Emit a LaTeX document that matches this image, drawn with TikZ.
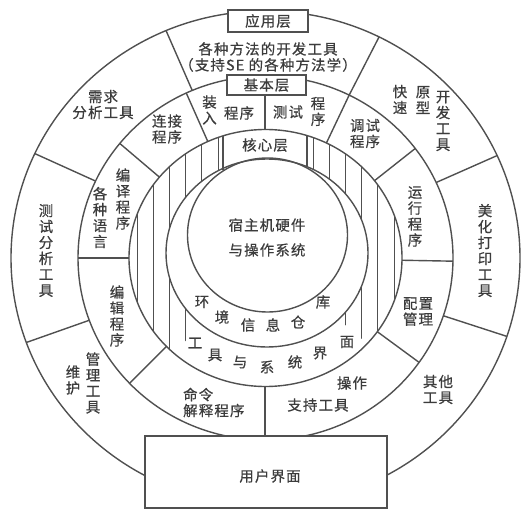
\documentclass[tikz,border=0pt]{standalone}
\usepackage{fontspec}
\newfontfamily\cjk[LetterSpace=8,FakeBold=0.6]{Noto Sans CJK SC}
\definecolor{ln}{RGB}{80,80,80}
\definecolor{tx}{RGB}{60,60,60}
\tikzset{
  ring/.style={draw=ln, line width=1.4bp},
  hatchline/.style={draw=ln, line width=0.8bp},
  boxed/.style={draw=ln, line width=1.4bp, fill=white},
  lbl/.style={text=tx, font=\cjk\fontsize{14.5}{16}\selectfont, inner sep=0pt, align=center},
}
\begin{document}
\begin{tikzpicture}[x=1bp,y=-1bp]
\useasboundingbox (0,0) rectangle (532,517);
\begin{scope}[shift={(265.5,258)}, y=1bp]
  % hatching of the tool/system interface ring
  \begin{scope}[even odd rule]
    \clip (0,0) -- (320:300) arc[start angle=320,end angle=586,radius=300] -- cycle;
    \clip (0,0) ellipse (136.5 and 128.5) (1.5,5) ellipse (101 and 94);
    \foreach \x in {47.5,63.7,79.9,96.1,112.3,128.5} {
      \draw[hatchline] (\x,-140) -- (\x,140);
      \draw[hatchline] (-\x,-140) -- (-\x,140);
    }
  \end{scope}
  % rings
  \draw[ring] (0,0) ellipse (254.5 and 247);
  \draw[ring] (0,0) ellipse (187.5 and 182);
  \draw[ring] (0,0) ellipse (136.5 and 128.5);
  \draw[ring] (1.5,5) ellipse (101 and 94);
  \draw[ring] (2,23) ellipse (80 and 77);
  % kernel box sides
  \draw[ring] (-42.5,122.1) -- (-42.5,88);
  \draw[ring] (41.5,122.4) -- (41.5,90.5);
  % application layer dividers
  \foreach \a in {63.5,113,155,200,-18.5,24.5}
    \draw[ring] (\a:187.5 and 182) -- (\a:254.5 and 247);
  % basic layer dividers
  \foreach \a in {115,141,180,223.5,-35,-1,37,63.5}
    \draw[ring] (\a:136.5 and 128.5) -- (\a:187.5 and 182);
  \draw[ring] (-0.5,165) -- (-0.5,128);
  \draw[ring] (-0.5,-128) -- (-0.5,-180);
  % boxes
  \node[boxed, minimum width=80bp, minimum height=22bp, inner sep=0pt] (app) at (2.5,237) {};
  \node[boxed, minimum width=79bp, minimum height=20bp, inner sep=0pt] (basic) at (1,173) {};
  \node[boxed, minimum width=242bp, minimum height=72bp, inner sep=0pt] (ui) at (0.5,-214) {};
  % labels in boxes
  \node[lbl] (tapp) at (app) {应用层};
  \node[lbl] (tbasic) at (basic) {基本层};
  \node[lbl] (tcore) at (-0.5,113) {核心层};
  \node[lbl] (tui) at (4.5,-218) {用户界面};
  % centre
  \node[lbl] (host) at (1.5,20.5) {宿主机硬件\\[9bp]与操作系统};
  % application layer
  \node[lbl] (meth) at (2.5,201) {各种方法的开发工具\\（支持SE 的各种方法学）};
  \node[lbl] (req) at (-162.5,153.5) {需求\\分析工具};
  \node[lbl] (tst) at (-219.5,7.5) {测\\试\\分\\析\\工\\具};
  \node[lbl] (whu) at (-192.5,-122) {维\\护};
  \node[lbl] (glgj) at (-172.5,-125) {管\\理\\工\\具};
  \node[lbl] (qt) at (172.5,-131.5) {其他\\工具};
  \node[lbl] (mh) at (219.5,7.5) {美\\化\\打\\印\\工\\具};
  \node[lbl] (ks) at (134.5,158.5) {快\\速};
  \node[lbl] (yx) at (157.5,158) {原\\型};
  \node[lbl] (kf) at (177.5,137) {开\\发\\工\\具};
  % basic layer
  \node[lbl] (lj) at (-98.5,129) {连接\\程序};
  \node[lbl] (by) at (-142.5,59) {编\\译\\程\\序};
  \node[lbl] (yy) at (-165.5,40.5) {各\\种\\语\\言};
  \node[lbl] (bj) at (-148.5,-58) {编\\辑\\程\\序};
  \node[lbl, align=left, anchor=west] (ml) at (-82.5,-144.5) {命令\\解释程序};
  \node[lbl] (cz) at (86.5,-125) {操作};
  \node[lbl] (zc) at (52.5,-147) {支持工具};
  \node[lbl] (pz) at (152.5,-53.5) {配置\\管理};
  \node[lbl] (yxcx) at (149.5,41.5) {运\\行\\程\\序};
  \node[lbl] (ts) at (99.5,124.5) {调试\\程序};
  \node[lbl] (zr) at (-56,148) {装\\入};
  \node[lbl] (zrcx) at (-26.5,145) {程序};
  \node[lbl] (cs) at (22.5,146) {测试};
  \node[lbl] (cscx) at (52.5,146.5) {程\\序};
  % kernel layer arc texts
  \foreach \c/\x/\y [count=\i] in {环/-63.5/-44, 境/-43.5/-59, 信/-17.5/-67, 息/7.5/-67, 仓/32.5/-64, 库/57.5/-44}
    \node[lbl] (env\i) at (\x,\y) {\c};
  \foreach \c/\x/\y [count=\i] in {工/-70.5/-85, 具/-50.5/-97, 与/-25.5/-104, 系/1.5/-109, 统/29.5/-104, 界/54.5/-95, 面/81.5/-84}
    \node[lbl] (tsi\i) at (\x,\y) {\c};
\end{scope}
\end{tikzpicture}
\end{document}
